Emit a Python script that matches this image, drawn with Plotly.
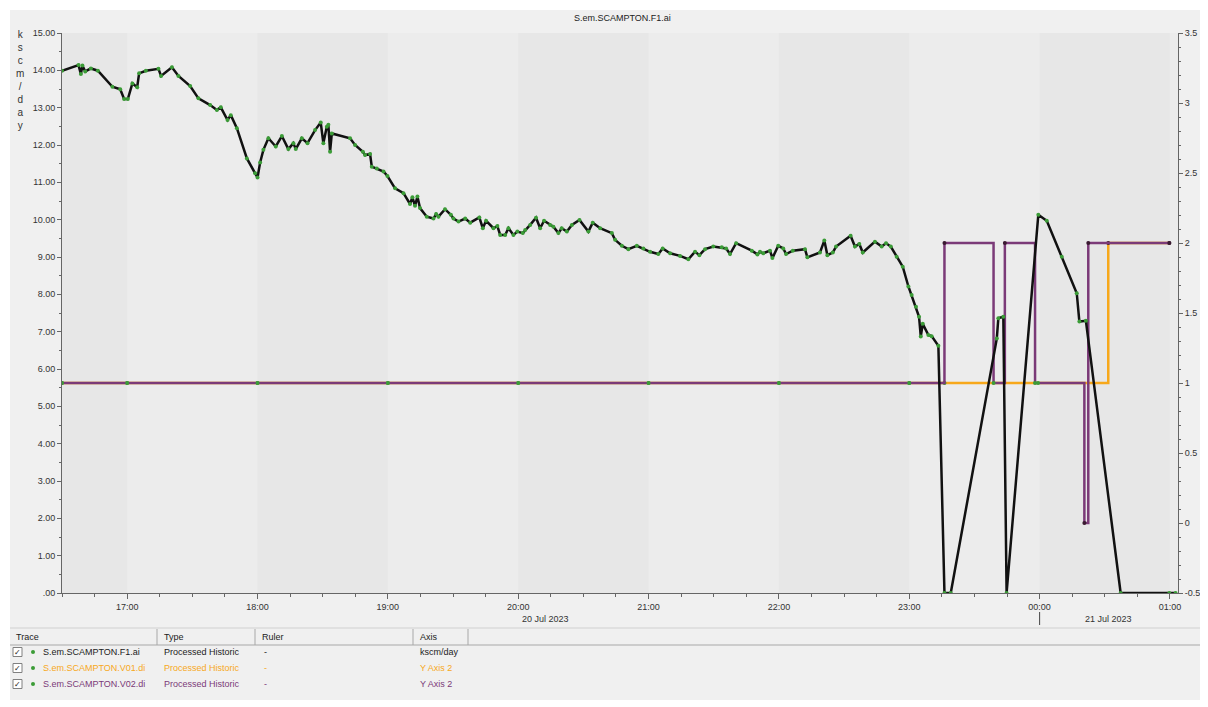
import plotly.graph_objects as go
import pandas as pd

BASE = pd.Timestamp("2023-07-20 17:00")

# ---- data (minutes relative to 20 Jul 2023 17:00) ----
f1_minutes = [-30, -22.4, -21.3, -20.6, -19.3, -16.7, -13.5, -6.8, -3.2, -1.4, 0.3, 2.4, 4.6, 5.5, 8.6,
              14.4, 15.6, 20.6, 23.6, 29.0, 32.8, 38.2, 41.3, 43.1, 46.2, 47.7, 50.5, 55.1, 58.9, 60.0,
              61.2, 62.7, 65.0, 68.4, 71.2, 74.2, 76.5, 77.6, 80.4, 83.0, 86.5, 89.1, 90.3, 91.9, 92.6,
              93.4, 94.2, 102.6, 104.9, 108.5, 109.5, 111.8, 112.6, 114.9, 118.0, 119.8, 123.3, 127.2,
              130.2, 131.3, 132.5, 133.6, 134.8, 137.9, 141.0, 142.2, 143.3, 146.3, 149.0, 150.2, 152.5,
              155.6, 157.9, 162.1, 163.7, 165.2, 168.6, 170.4, 171.7, 174.0, 175.5, 177.8, 179.6, 182.1,
              183.2, 185.5, 188.2, 190.1, 191.9, 194.7, 196.2, 198.5, 200.0, 202.4, 204.7, 208.2, 212.3,
              214.3, 217.7, 223.1, 224.6, 227.7, 230.7, 234.6, 237.6, 240.7, 244.5, 246.5, 249.9, 254.5,
              258.3, 261.4, 263.4, 266.0, 269.8, 273.7, 275.7, 277.5, 280.3, 287.5, 290.1, 291.3, 292.8,
              295.9, 297.0, 299.7, 302.0, 303.3, 306.4, 312.0, 313.1, 318.9, 320.9, 322.3, 324.8, 326.3,
              333.0, 335.0, 337.0, 338.6, 344.2, 347.3, 349.3, 351.5, 354.2, 357.0, 359.6, 361.1, 363.1,
              364.5, 365.3, 366.2, 368.8, 370.3, 373.4, 376.2, 379.1, 400.3, 401.0, 403.3, 404.8, 419.4,
              423.3, 430.2, 437.1, 438.3, 441.3, 457.3, 479.7, 482.6]
f1_values = [13.99, 14.14, 13.90, 14.13, 13.97, 14.05, 13.99, 13.56, 13.49, 13.23, 13.23, 13.65, 13.55, 13.92, 13.99,
             14.04, 13.85, 14.08, 13.85, 13.58, 13.25, 13.07, 12.94, 13.01, 12.67, 12.80, 12.45, 11.64, 11.24, 11.13,
             11.53, 11.87, 12.18, 11.96, 12.24, 11.89, 12.05, 11.89, 12.18, 12.05, 12.40, 12.60, 12.05, 12.49, 12.54,
             11.82, 12.31, 12.18, 12.00, 11.82, 11.73, 11.76, 11.42, 11.37, 11.29, 11.17, 10.84, 10.71,
             10.42, 10.60, 10.37, 10.62, 10.31, 10.08, 10.03, 10.15, 10.08, 10.28, 10.13, 10.03, 9.95,
             10.03, 9.92, 10.06, 9.77, 9.97, 9.77, 9.83, 9.59, 9.59, 9.77, 9.59, 9.68, 9.64,
             9.72, 9.86, 10.05, 9.77, 9.97, 9.86, 9.81, 9.64, 9.77, 9.68, 9.86, 9.99, 9.68,
             9.92, 9.77, 9.64, 9.46, 9.30, 9.21, 9.30, 9.23, 9.14, 9.08, 9.23, 9.10, 9.03,
             8.94, 9.14, 9.05, 9.21, 9.28, 9.26, 9.23, 9.08, 9.37, 9.17, 9.07, 9.14, 9.10,
             9.17, 8.97, 9.30, 9.23, 9.08, 9.17, 9.21, 8.99, 9.12, 9.44, 9.05, 9.12, 9.28,
             9.57, 9.28, 9.35, 9.12, 9.41, 9.28, 9.37, 9.28, 9.01, 8.74, 8.21, 7.98, 7.67,
             7.40, 6.87, 7.21, 6.91, 6.88, 6.62, 0.0, 0.0, 6.82, 7.36, 7.40, 0.0, 10.13,
             9.97, 9.01, 8.03, 7.27, 7.29, 0.0, 0.0, 0.0]

v01_minutes = [-30, 0, 60, 120, 180, 240, 300, 360, 376.2, 451.6, 479.7]
v01_values = [1, 1, 1, 1, 1, 1, 1, 1, 1, 2, 2]

v02_minutes = [-30, 0, 60, 120, 180, 240, 300, 360, 376.2, 398.8, 404.0, 417.9, 419.3, 440.6, 442.4, 479.7]
v02_values = [1, 1, 1, 1, 1, 1, 1, 1, 2, 1, 2, 1, 1, 0, 2, 2]

trace_names = ["S.em.SCAMPTON.F1.ai", "S.em.SCAMPTON.V01.di", "S.em.SCAMPTON.V02.di"]
trace_axes = ["kscm/day", "Y Axis 2", "Y Axis 2"]
trace_type = "Processed Historic"
title_text = "S.em.SCAMPTON.F1.ai"
left_ticks = list(range(0, 16))
right_ticks = [-0.5, 0, 0.5, 1, 1.5, 2, 2.5, 3, 3.5]
date_labels = ["20 Jul 2023", "21 Jul 2023"]

# ---- styling ----
BLACK = "#111111"
ORANGE = "#f7a81b"
PURPLE = "#7b3a78"
GREEN = "#3b9c37"
DARKM = "#3a1a30"
FONT = "Liberation Sans"
FS = 9
OFF = 8                       # page body margin
W, H = 1208 - OFF, 700 - OFF  # figure covers reference pixels 8..1208 x 8..700
# plot area in reference pixels
RL, RR, RT, RB = 62, 1178, 33, 593
PL, PR, PT, PB = RL - OFF, RR - OFF, RT - OFF, RB - OFF


def ts(mins):
    return [BASE + pd.Timedelta(minutes=m) for m in mins]


def px(xref_pix):
    return (xref_pix - RL) / (RR - RL)


def py(yref_pix):
    return (RB - yref_pix) / (RB - RT)


fig = go.Figure()

fig.add_trace(go.Scatter(
    x=ts(v01_minutes), y=v01_values, yaxis="y", mode="lines+markers", line_shape="hv",
    line=dict(color=ORANGE, width=2.5),
    marker=dict(size=4, color=[GREEN if v == 1 else DARKM for v in v01_values]),
    name=trace_names[1], showlegend=False))

fig.add_trace(go.Scatter(
    x=ts(v02_minutes), y=v02_values, yaxis="y", mode="lines+markers", line_shape="hv",
    line=dict(color=PURPLE, width=2.5),
    marker=dict(size=4, color=[GREEN if v == 1 else DARKM for v in v02_values]),
    name=trace_names[2], showlegend=False))

fig.add_trace(go.Scatter(
    x=ts(f1_minutes), y=f1_values, yaxis="y2", mode="lines+markers",
    line=dict(color=BLACK, width=2.5),
    marker=dict(size=4, color=GREEN),
    name=trace_names[0], showlegend=False))

x0 = BASE - pd.Timedelta(minutes=30)
x1 = BASE + pd.Timedelta(minutes=483.7)

shapes = []
# white strips of the window
shapes.append(dict(type="rect", xref="paper", yref="paper", x0=px(OFF), x1=px(1208), y0=py(10), y1=py(OFF),
                   fillcolor="white", line=dict(width=0), layer="below"))
shapes.append(dict(type="rect", xref="paper", yref="paper", x0=px(OFF), x1=px(10), y0=py(700), y1=py(OFF),
                   fillcolor="white", line=dict(width=0), layer="below"))
shapes.append(dict(type="rect", xref="paper", yref="paper", x0=px(1201), x1=px(1208), y0=py(700), y1=py(OFF),
                   fillcolor="white", line=dict(width=0), layer="below"))

# alternating hourly bands
for k in range(-1, 9, 2):
    b0 = max(BASE + pd.Timedelta(hours=k), x0)
    b1 = BASE + pd.Timedelta(hours=k + 1)
    shapes.append(dict(type="rect", xref="x", yref="paper", x0=b0, x1=b1, y0=0, y1=1,
                       fillcolor="#e7e7e7", line=dict(width=0), layer="below"))

# date marker under midnight
shapes.append(dict(type="line", xref="x", yref="paper", x0=BASE + pd.Timedelta(hours=7),
                   x1=BASE + pd.Timedelta(hours=7), y0=py(612), y1=py(625),
                   line=dict(color="#444", width=1)))

# table lines
shapes.append(dict(type="line", xref="paper", yref="paper", x0=px(10), x1=px(1200), y0=py(628), y1=py(628),
                   line=dict(color="#d0d0d0", width=1)))
shapes.append(dict(type="line", xref="paper", yref="paper", x0=px(10), x1=px(1200), y0=py(645), y1=py(645),
                   line=dict(color="#a8a8a8", width=1)))
for cx in [157, 255, 413, 468]:
    shapes.append(dict(type="line", xref="paper", yref="paper", x0=px(cx), x1=px(cx), y0=py(629), y1=py(645),
                       line=dict(color="#a8a8a8", width=1)))

annotations = []


def ann(text, x, y, color="#333", size=FS, xanchor="center", family=FONT):
    annotations.append(dict(text=text, x=px(x), y=py(y), xref="paper", yref="paper",
                            xanchor=xanchor, yanchor="middle", showarrow=False,
                            font=dict(family=family, size=size, color=color)))


ann(title_text, 622, 18, "#222")
annotations.append(dict(text="<br>".join(list("kscm/day")), x=px(20), y=py(27), xref="paper", yref="paper",
                        showarrow=False, xanchor="center", yanchor="top", align="center",
                        font=dict(family=FONT, size=10, color="#333")))
ann(date_labels[0], 545, 619)
ann(date_labels[1], 1108, 619)

headers = [("Trace", 14), ("Type", 162), ("Ruler", 260), ("Axis", 418)]
for t, hx in headers:
    ann(t, hx, 637, "#222", xanchor="left")

row_colors = ["#222222", ORANGE, PURPLE]
row_y = [652, 668, 684]
for i in range(3):
    ry = row_y[i]
    c = row_colors[i]
    shapes.append(dict(type="rect", xref="paper", yref="paper", x0=px(13), x1=px(22), y0=py(ry + 4.5),
                       y1=py(ry - 4.5), fillcolor="white", line=dict(color="#808080", width=1)))
    ann("✓", 17.5, ry, "#222", size=8, family="DejaVu Sans")
    shapes.append(dict(type="circle", xref="paper", yref="paper", x0=px(31), x1=px(35), y0=py(ry + 2),
                       y1=py(ry - 2), fillcolor=GREEN, line=dict(width=0)))
    ann(trace_names[i], 41, ry, c, xanchor="left")
    ann(trace_type, 162, ry, c, xanchor="left")
    ann("-", 262, ry, c, xanchor="left")
    ann(trace_axes[i], 418, ry, c, xanchor="left")

axis_font = dict(family=FONT, size=FS, color="#333")

fig.update_layout(
    width=W, height=H,
    margin=dict(l=PL, r=W - PR, t=PT, b=H - PB, pad=0, autoexpand=False),
    paper_bgcolor="#f0f0f0",
    plot_bgcolor="#ececec",
    showlegend=False,
    xaxis=dict(type="date", range=[x0, x1], showgrid=False, zeroline=False,
               tick0=BASE, dtick=3600000, tickformat="%H:%M",
               ticks="outside", ticklen=5, tickcolor="#666", showline=True, linecolor="#666",
               minor=dict(dtick=900000, ticks="outside", ticklen=3, tickcolor="#666", showgrid=False),
               tickfont=axis_font),
    yaxis=dict(range=[-0.5, 3.5], side="right", anchor="x", showgrid=False, zeroline=False,
               tickvals=right_ticks, ticktext=["%g" % v for v in right_ticks],
               ticks="outside", ticklen=4, tickcolor="#666", showline=True, linecolor="#666",
               minor=dict(dtick=0.1, ticks="outside", ticklen=2, tickcolor="#666", showgrid=False),
               tickfont=axis_font),
    yaxis2=dict(range=[0, 15], side="left", overlaying="y", anchor="x", showgrid=False, zeroline=False,
                tickvals=left_ticks, ticktext=[(".00" if v == 0 else "%.2f" % v) for v in left_ticks],
                ticks="outside", ticklen=4, tickcolor="#666", showline=True, linecolor="#666",
                minor=dict(dtick=0.5, ticks="outside", ticklen=2, tickcolor="#666", showgrid=False),
                tickfont=axis_font),
    shapes=shapes,
    annotations=annotations,
)

fig.write_html("out.html")
